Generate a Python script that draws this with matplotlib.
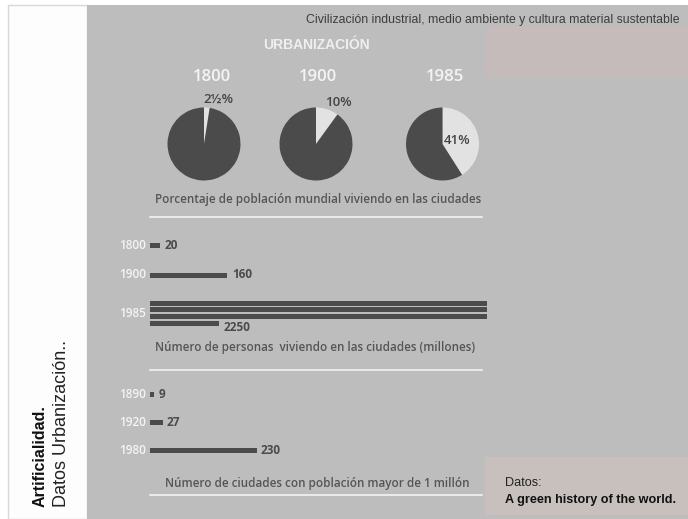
import matplotlib
matplotlib.use("Agg")
import matplotlib.pyplot as plt
from matplotlib.patches import Rectangle
import numpy as np

# ---------------- data ----------------
pie_years = ["1800", "1900", "1985"]
urban_pct = [2.5, 10, 41]
pie_labels = ["2½%", "10%", "41%"]

pop_years = ["1800", "1900", "1985"]
pop_millions = [20, 160, 2250]

city_years = ["1890", "1920", "1980"]
city_counts = [9, 27, 230]

title_top = "Civilización industrial, medio ambiente y cultura material sustentable"
main_title = "URBANIZACIÓN"
cap1 = "Porcentaje de población mundial viviendo en las ciudades"
cap2 = "Número de personas  viviendo en las ciudades (millones)"
cap3 = "Número de ciudades con población mayor de 1 millón"
side_bold = "Artificialidad."
side_reg = "Datos Urbanización.."
src1 = "Datos:"
src2 = "A green history of the world."

# ---------------- layout helpers ----------------
W, H = 688, 519
fig = plt.figure(figsize=(W / 100, H / 100), dpi=100)
fig.patch.set_facecolor("white")

def fx(x):
    return x / W

def fy(y):
    return 1 - y / H

def add_ax(x0, y0, w, h):
    return fig.add_axes([fx(x0), fy(y0 + h), w / W, h / H])

bg = fig.add_axes([0, 0, 1, 1])
bg.set_xlim(0, W)
bg.set_ylim(H, 0)
bg.axis("off")

GRAY = "#bdbdbd"
DARK = "#4b4b4b"
LIGHT = "#e2e2e2"
CAP = "#555555"
WHITE_T = "#f4f4f4"

# panels
bg.add_patch(Rectangle((8, 5), 79, H - 5, facecolor="#fdfdfd", edgecolor="#d8d8d8", lw=1))
bg.add_patch(Rectangle((87, 5), W - 87, H - 5, facecolor=GRAY, edgecolor="none"))
bg.add_patch(Rectangle((485, 27), W - 485, 51, facecolor="#c4bbba", edgecolor="none"))
bg.add_patch(Rectangle((485, 457), W - 485, 58, facecolor="#c8c0bd", edgecolor="none"))

SANS = ["Open Sans", "DejaVu Sans"]
NARROW = ["Liberation Sans Narrow", "Liberation Sans", "DejaVu Sans"]
ARIAL = ["Liberation Sans", "DejaVu Sans"]

# ---------------- pies ----------------
pie_cx = [204, 316, 442.5]
pie_cy = 144
R = 36.5
label_pos = [(218, 99), (338, 102), (457, 140)]
year_x = [212, 318, 445]
for i, pct in enumerate(urban_pct):
    ax = add_ax(pie_cx[i] - R, pie_cy - R, 2 * R, 2 * R)
    ax.pie([pct, 100 - pct], colors=[LIGHT, DARK], startangle=90,
           counterclock=False, radius=1,
           wedgeprops=dict(linewidth=0))
    ax.set_xlim(-1, 1)
    ax.set_ylim(-1, 1)
    ax.set_aspect("equal")
    ax.axis("off")

# ---------------- bars: population (wrapping rows) ----------------
BX0, BW = 150, 337
px_per_unit = 0.48
row_cap = BW / px_per_unit  # units per full row

ax1 = add_ax(BX0, 235, BW, 100)
ax1.set_xlim(0, row_cap)
ax1.set_ylim(335, 235)
ax1.axis("off")
pop_row_y = [245.5, 275, 303]
bar_h = 5
sub_gap = 6.8
pop_label_specs = []
for yr, val, y in zip(pop_years, pop_millions, pop_row_y):
    n_full = int(val // row_cap)
    rem = val - n_full * row_cap
    segs = [row_cap] * n_full + ([rem] if rem > 0 else [])
    ys = [y + k * sub_gap for k in range(len(segs))]
    ax1.barh(ys, segs, height=bar_h, left=0, color=DARK, linewidth=0)
    if n_full == 0:
        ax1.text(val + 5 / px_per_unit, y, str(val), ha="left", va="center",
                 fontsize=8.5, family=SANS, color=DARK, fontweight="bold")
        pop_label_specs.append((yr, y))
    else:
        ax1.text(rem + 5 / px_per_unit, ys[-1] + 4, str(val), ha="left", va="center",
                 fontsize=8.5, family=SANS, color=DARK, fontweight="bold")
        pop_label_specs.append((yr, (ys[0] + ys[-1]) / 2))

# ---------------- bars: cities ----------------
ax2 = add_ax(BX0, 380, BW, 80)
ax2.set_xlim(0, BW / 0.465)
ax2.set_ylim(460, 380)
ax2.axis("off")
city_row_y = [394.5, 422.5, 450.5]
ax2.barh(city_row_y, city_counts, height=bar_h, color=DARK, linewidth=0)
for val, y in zip(city_counts, city_row_y):
    ax2.text(val + 4 / 0.465, y, str(val), ha="left", va="center",
             fontsize=8.5, family=SANS, color=DARK, fontweight="bold")

# ---------------- overlay for texts ----------------
top = fig.add_axes([0, 0, 1, 1])
top.set_xlim(0, W)
top.set_ylim(H, 0)
top.axis("off")
top.patch.set_alpha(0)

top.text(680, 20, title_top, ha="right", va="center", fontsize=8.8,
         family=NARROW, color="#3c3c3c")
top.text(316, 45, main_title, ha="center", va="center", fontsize=10,
         family=NARROW, color="#efefef", fontweight="bold")

for i, (yr, lab) in enumerate(zip(pie_years, pie_labels)):
    top.text(year_x[i], 77, yr, ha="center", va="center", fontsize=12,
             family=SANS, color=WHITE_T, fontweight="semibold")
    top.text(label_pos[i][0], label_pos[i][1], lab, ha="center", va="center",
             fontsize=9.5, family=SANS, color="#444444", fontweight="semibold")

top.text(318, 199, cap1, ha="center", va="center", fontsize=8.4,
         family=SANS, color=CAP, fontweight="semibold")
top.plot([150, 482], [217, 217], color="#f2f2f2", lw=1.2)

for yr, y in pop_label_specs:
    top.text(146, y, yr, ha="right", va="center", fontsize=8.5,
             family=SANS, color=WHITE_T, fontweight="semibold")

top.text(315, 347, cap2, ha="center", va="center", fontsize=8.4,
         family=SANS, color=CAP, fontweight="semibold")
top.plot([150, 482], [370, 370], color="#f2f2f2", lw=1.2)

for yr, y in zip(city_years, city_row_y):
    top.text(146, y, yr, ha="right", va="center", fontsize=8.5,
             family=SANS, color=WHITE_T, fontweight="semibold")

top.text(317, 483, cap3, ha="center", va="center", fontsize=8.4,
         family=SANS, color=CAP, fontweight="semibold")
top.plot([150, 482], [495, 495], color="#f2f2f2", lw=1.2)

top.text(40, 507, side_bold, rotation=90, ha="center", va="bottom",
         fontsize=11.5, family=ARIAL, fontweight="bold", color="#111111")
top.text(62, 507, side_reg, rotation=90, ha="center", va="bottom",
         fontsize=13, family=ARIAL, color="#222222")

top.text(505, 483, src1, ha="left", va="center", fontsize=9.1,
         family=NARROW, color="#222222")
top.text(505, 500, src2, ha="left", va="center", fontsize=9.1,
         family=NARROW, color="#111111", fontweight="bold")

fig.savefig("out.png", dpi=100, facecolor=fig.get_facecolor())
